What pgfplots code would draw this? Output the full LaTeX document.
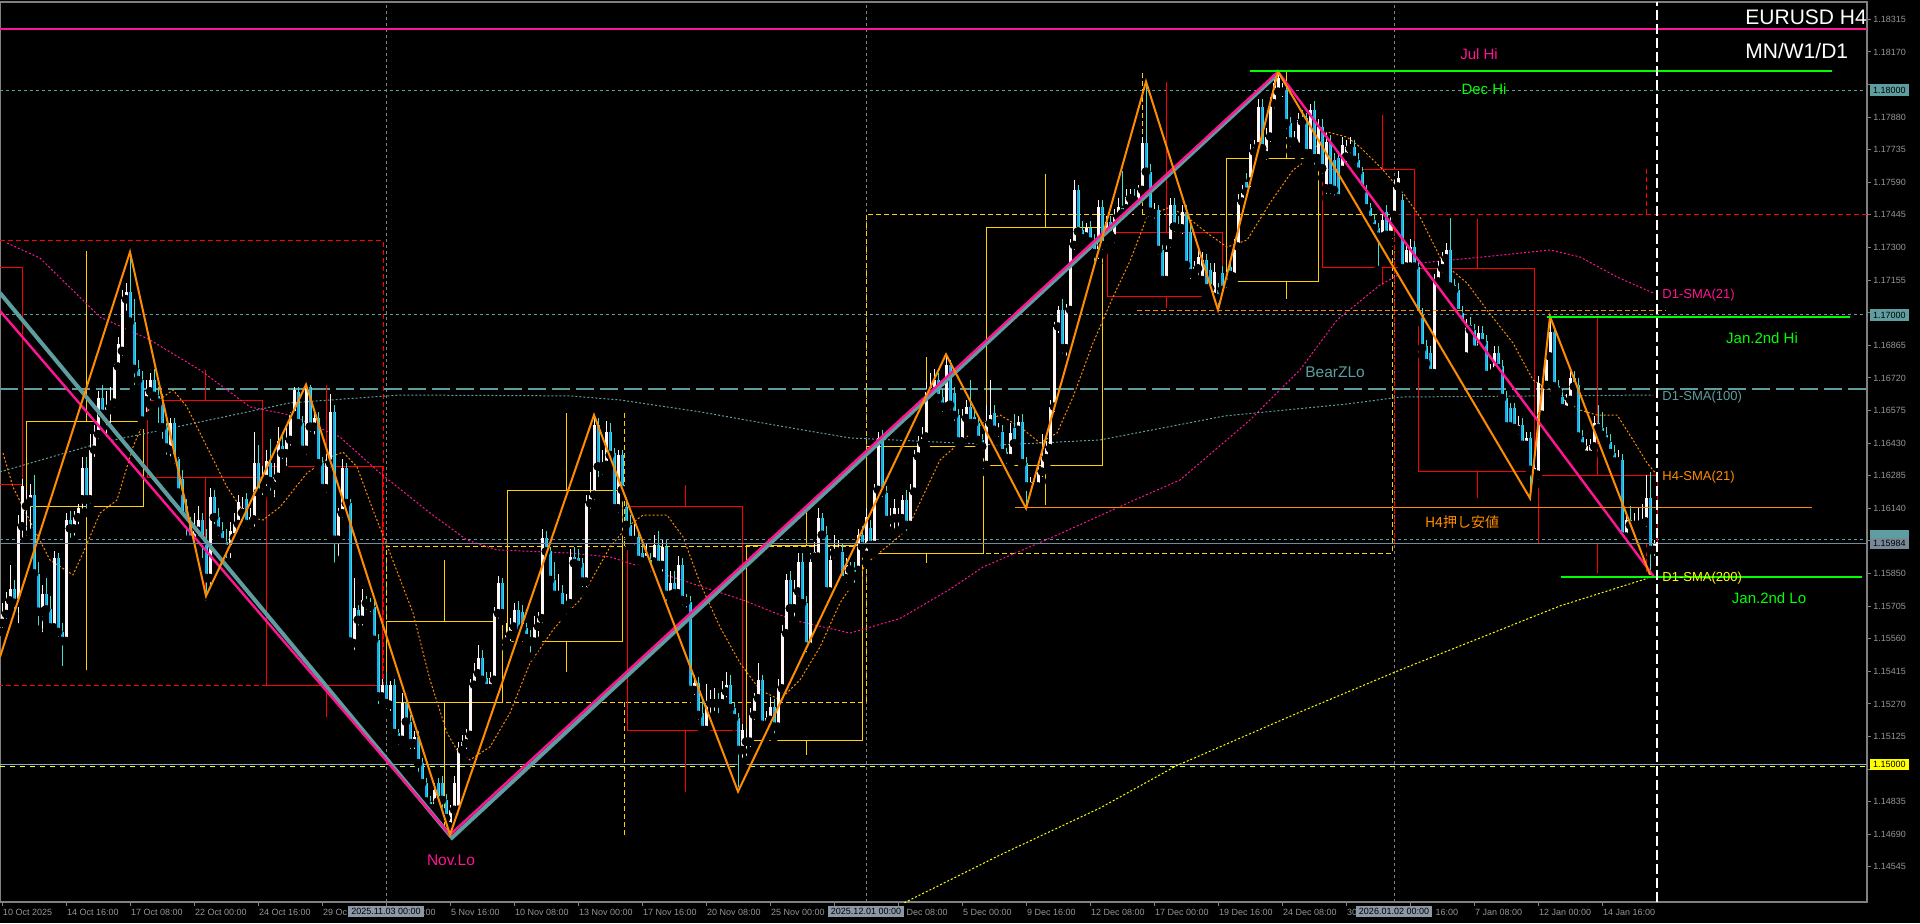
\documentclass[border=0pt]{standalone}
\usepackage{fontspec}
\setmainfont{Liberation Sans}
\newfontfamily\cjk{Noto Sans CJK JP}
\usepackage{pgfplots}
\usepackage{pgfplotstable}
\pgfplotsset{compat=1.18}
\definecolor{bullbody}{RGB}{255,246,246}
\definecolor{bullwick}{RGB}{245,245,245}
\definecolor{bearbody}{RGB}{25,170,250}
\definecolor{bearwick}{RGB}{64,224,208}
\definecolor{dpink}{RGB}{255,20,147}
\definecolor{cadet}{RGB}{95,158,160}
\definecolor{dorange}{RGB}{255,140,0}
\definecolor{lime}{RGB}{0,255,0}
\definecolor{gold}{RGB}{255,210,0}
\definecolor{yel}{RGB}{255,255,0}
\definecolor{tickgray}{RGB}{150,150,150}
\definecolor{framegray}{RGB}{128,128,128}
\definecolor{slate}{RGB}{119,136,153}
\definecolor{boxgray}{RGB}{140,152,165}
% prices are stored as (price - 1.1000) * 10000, e.g. 652.3 = 1.16523
\pgfplotstableread{
i o h l c
0 563 572 559 567
1 567 577 563 573
2 573 589 570 578
3 578 582 567 572
4 572 611 561 606
5 606 627 597 624
6 615 622 600 617
7 617 625 603 620
8 620 629 583 585
9 585 590 560 568
10 568 580 557 576
11 576 583 565 569
12 569 575 557 561
13 561 595 558 592
14 592 594 555 559
15 559 563 542 555
16 555 612 553 609
17 609 613 599 605
18 605 613 600 610
19 610 616 605 614
20 618 637 612 632
21 632 637 612 618
22 618 647 614 640
23 640 651 635 647
24 647 666 643 663
25 663 669 652 656
26 656 666 644 659
27 659 668 650 661
28 661 678 657 677
29 677 690 675 687
30 684 711 680 707
31 707 714 700 710
32 710 728 694 697
33 697 707 667 676
34 676 680 667 671
35 671 675 651 653
36 662 671 655 666
37 666 674 660 671
38 671 676 659 664
39 664 668 650 661
40 662 665 643 650
41 650 652 636 641
42 640 654 633 652
43 652 654 632 636
44 636 637 618 621
45 627 631 605 611
46 615 618 600 608
47 608 610 596 600
48 599 612 595 604
49 604 615 600 609
50 609 612 590 599
51 598 605 575 583
52 583 623 578 619
53 619 622 605 610
54 610 614 600 604
55 604 608 593 599
56 599 605 590 596
57 596 608 590 604
58 601 612 598 607
59 607 620 603 617
60 612 619 604 614
61 618 621 604 607
62 607 614 603 610
63 609 648 604 634
64 634 642 618 621
65 625 633 618 627
66 627 640 622 635
67 634 645 620 626
68 624 634 617 628
69 628 650 625 644
70 641.5 648 634 638.5
71 638.5 650 631 644.4
72 644.4 657 640 655.5
73 655.5 668 652 666.7
74 665.9 668 648 651.8
75 651.8 655 638 640
76 640 669 636 668.1
77 668.1 669 646 650.3
78 650.3 658 645 654
79 654 657 631 634
80 634 637 620 622.9
81 622.9 638 619 634
82 634 665 630 657
83 657 660 588 600
84 600 614 591 611.8
85 611.8 636 608 631.8
86 631.8 634 613 616.3
87 616.3 618 551 554.7
88 554 583 549 569.5
89 568.8 571 560 564.4
90 564.4 578 560 573.3
91 573.3 575 567 571.8
92 571.8 574 566 570.3
93 570.3 573 553 555.5
94 555.5 558 525 530.3
95 530.3 538 525 535.5
96 535.5 541 523 527.3
97 526.6 537 522 535.5
98 535.5 538 510 514
99 514 516 507 511
100 511 532 508 527.3
101 527.3 530 516 519.1
102 519.1 522 505 509.5
103 509.5 515 505 512.5
104 512.5 515 495 500.6
105 500.6 503 488 491.7
106 491.7 494 478 483.6
107 483.6 486 476 480.6
108 480.6 492 477 488.7
109 491.7 494 480 483.6
110 491.7 495 479 484.3
111 484.3 487 468.8 476.2
112 472.5 482 468 479.9
113 479.9 495 476 491.7
114 479.9 510 476 507.3
115 506.5 513 503 510.2
116 509.5 516 505 513.2
117 513.2 538 510 535.5
118 535.5 545 533 540.6
119 540.6 553 537 547.3
120 547.3 551 535 537.7
121 538.4 541 530 534
122 534 541 531 538.4
123 537.7 570 535 567.3
124 567.3 584 563 580.7
125 580.7 583 564 567.3
126 554.7 563 552 557.7
127 557.7 565 553 561.4
128 561.4 572 558 568.8
129 568.8 573 555 558.4
130 568 571 557 560.7
131 560.7 563 553 556.2
132 556.2 560 548 554.7
133 554.7 566 551 561.4
134 561.4 568 555 565.1
135 565.1 605 561 600.7
136 600.7 604 592 594.8
137 594.8 597 579 582.1
138 582.1 590 572 575.5
139 575.5 585 572 576.2
140 576.2 580 566 569.5
141 570.3 576 565 571.8
142 571.8 596 568 592.5
143 592.5 597 586 589.6
144 591.8 596 585 588.8
145 589.6 592 577 581.4
146 581.4 620 577 616.2
147 616.2 630 612 620
148 620 655.5 616 651.1
149 651.1 654 626 632.6
150 632.6 640 627 633.3
151 633.3 653 630 648.1
152 648.1 652 634 637.7
153 638.5 641 610 614
154 614 640 610 637.7
155 637.7 640 619 622.2
156 614.8 619 603 606.6
157 606.6 611 597 599.9
158 599.9 607 596 601.4
159 601.4 604 587 591
160 594 600 587 590.3
161 591 598 586 594
162 591 594 584 588.1
163 590.3 602 587 597.7
164 597.7 604 585 588.8
165 588.8 600 584 597
166 597 600 571 575.5
167 575.5 586 572 580.7
168 580.7 586 573 576.2
169 576.2 593 572 588.8
170 588.8 592 569 573.2
171 573.2 576 568 572.5
172 572.5 575 530 533.2
173 533.2 540 529 536.2
174 536.2 539 518 522.1
175 522.8 529 512 515.4
176 515.4 536 512 527.3
177 527.3 533 520 528
178 527.3 534 522 528.8
179 528.8 532 521 527.3
180 527.3 537 524 532.5
181 532.5 541 528 535.4
182 535.4 540 521 525.1
183 525.1 528 517 520.6
184 520.6 523 488 506.5
185 506.5 518 500 515.4
186 510.2 516 502 511
187 510.2 525 506 522.1
188 522.1 532 518 529.5
189 529.5 545 526 537.7
190 537.7 540 514 517.7
191 517.7 524 512 520.6
192 519.9 530 515 525.8
193 525.8 529 512 516.9
194 516.9 538 513 533.9
195 533.9 562 530 558.4
196 558.4 585 555 582.1
197 582.1 586 566 569.5
198 569.5 582 564 577
199 577 594 573 590.3
200 590.3 594 568 571.8
201 571.8 575 548 552.5
202 552.5 594 550 590.3
203 592.5 599 589 594.7
204 592.5 614 589 609.6
205 609.6 612 598 602.2
206 602.2 606 574 577
207 577 596 574 591
208 594 602 590 594.7
209 594.7 600 591 595
210 594.7 598 579 582.1
211 582.9 592 579 588.8
212 588 590 583 586.6
213 586.6 590 579 584
214 586.6 605 583 602.2
215 602.2 606 594 597
216 593.3 614 590 610.3
217 605.1 609 594 597.7
218 597.7 625 594 622.2
219 622.2 648 619 645.2
220 645.2 649 617 621.4
221 620.7 624 605 608.8
222 608.8 614 604 609.6
223 609.6 618 603 614
224 609.6 614 604 610.3
225 609.6 620 605 617.7
226 617.7 622 602 606.6
227 606.6 625 603 621.4
228 621.4 640 618 637
229 637 646 634 642.9
230 642.9 650 640 645.9
231 645.9 670 642 665.9
232 665.9 674 662 668.1
233 665.9 676 662 671.1
234 671.1 674 659 663
235 663.7 667 655 659.2
236 659.2 682.5 656 677.8
237 677.8 680 656 660
238 665.2 668 651 655.5
239 655.5 658 640 643.7
240 643.7 658 640 654.1
241 654.1 662 650 659.2
242 659.2 671 648 651.8
243 654.8 658 649 651.8
244 651.8 654 640 644.4
245 644.4 647 638 641.5
246 633.3 660 630 651.8
247 651.8 671 648 655.5
248 656.3 660 645 648.9
249 648.1 652 644 648.9
250 648.1 651 635 638.5
251 639.2 641 632 636.3
252 636.3 652 633 647.4
253 649.6 656 640 642.9
254 648.9 655 645 652.6
255 652.6 656 630 634
256 634 637 614 623.7
257 623.7 628 620 625.9
258 625.1 628 620 623.7
259 623.7 633 620 630.3
260 630.3 647 626 637
261 636.3 644 633 640.7
262 640.7 662 637 659.2
263 659.2 697 655 694.8
264 694.8 704 690 702.2
265 702.2 707 681 685.2
266 685.2 705 680 702.2
267 702.2 734 699 731.1
268 731.1 760 727 755.6
269 755.6 758 732 737.1
270 737.8 742 730 734.1
271 734.9 741 731 738.6
272 738.6 742 727 732.6
273 733.4 736 722 727.4
274 727.4 751 723 748.2
275 748.2 751 727 731.1
276 734.1 744 729 741.5
277 741.5 744 732 735.6
278 734.1 747 730 743.7
279 743.7 752 740 748.2
280 747.5 764 743 745.2
281 747.4 756 744 752.6
282 751.9 756 748 752.6
283 752.6 756 748 751.1
284 747.4 758 744 755.6
285 755.6 779 752 776.3
286 776.3 803.8 760 763.7
287 763.7 767 742 745.9
288 745.2 750 741 746.7
289 746.7 749 725 728.9
290 728.9 731 712 715.5
291 715.5 731 712 728.2
292 731.9 752 728 748.9
293 748.9 752 735 739.3
294 740 744 735 738.5
295 738.5 749 734 745.9
296 745.9 749 719 722.2
297 737.1 741 714 718.5
298 718.5 724 714 721.5
299 720.7 729 716 725.9
300 715.5 728 712 724.4
301 724.4 727 708 711.8
302 720 723 708 711.8
303 708.1 723 704 719.3
304 711.1 714 702.2 707.4
305 718.5 722 707 711.1
306 714.1 720 710 717
307 721.5 725 714 717.8
308 717 734 714 730.4
309 730.4 754 727 750.4
310 750.4 758 747 754.1
311 759.3 763 751 754.8
312 759.3 776 755 772.6
313 772.6 778 769 774.9
314 774.9 796 771 792.6
315 792.6 796 770 774.1
316 771.1 783 767 779.3
317 779.3 797 775 794.1
318 794.1 806 790 803
319 799.3 808.2 796 805.2
320 799.3 803 795 800.1
321 800.1 803 781 785.2
322 785.2 788 773 777.1
323 777.1 782 773 777.8
324 774.9 790 771 786.7
325 787.5 791 783 786
326 787.5 790 768 771.9
327 771.9 794 768 791.2
328 791.2 795 765 769.7
329 769.7 787 766 783.7
330 783.7 787 761 765.2
331 756.3 781 752 777.1
332 777.1 780 752 756.3
333 768.9 772 751 755.6
334 769.7 773 748 751.9
335 764.5 779 761 775.6
336 770.4 778 766 774.9
337 774.1 779 770 775.6
338 774.9 778 765 768.9
339 768.9 772 760 763.7
340 763.7 766 752 755.6
341 755.6 758 744 747.4
342 747.4 750 739 742.2
343 742.2 745 735 738.5
344 738.5 741 720 734.8
345 734.8 746 731 742.2
346 745.9 749 732 735.6
347 735.6 744 732 740.8
348 744.5 760 741 757.1
349 757.1 764 754 760.8
350 751.1 754 718 720.7
351 721.5 732 718 728.9
352 721.5 734 718 730.4
353 730.4 733 718 721.5
354 721.5 724 697 700
355 700 703 682 685.2
356 686 689 675 678.5
357 683 686 671 674.1
358 674.1 718 671 714.9
359 714.9 724 711 720.8
360 720.8 728 717 725.2
361 725.2 732 722 728.9
362 728.9 743 709 712.6
363 713.4 716 708 711.1
364 711.1 714 697 700.8
365 700.8 704 692 695.6
366 681.5 698 678 695.6
367 695.6 699 690 693.4
368 693.4 696 681 684.5
369 684.5 695 681 691.9
370 691.9 695 684 687.4
371 688.2 691 670 673.3
372 673.3 678 670 674.8
373 674.8 686 672 683
374 683 686 673 676.3
375 677.1 680 660 663
376 663 666 647 650.4
377 658.5 661 647 650.4
378 658.5 661 646 649.6
379 648.9 655 645 651.1
380 651.1 654 639 642.2
381 642.2 648 639 645.2
382 645.2 648 618.5 631.1
383 629.6 635 626 631.8
384 628.9 673 625 669.6
385 655.6 672 652 668.9
386 668.9 684 665 681.5
387 681.5 699.3 678 692.6
388 692.6 695 665 668.2
389 668.2 671 663 665.9
390 663.7 667 655 658.5
391 657.8 665 654 662.2
392 662.2 675 659 671.9
393 671.9 675 665 668.2
394 668.9 672 643 645.9
395 645.9 649 638 641.5
396 637.8 645 634 641.5
397 637.8 645 634 642.2
398 641.5 655 638 651.9
399 651.9 660 648 649.6
400 649.6 657 644 646.7
401 646.7 650 640 643.7
402 643.7 647 635 638.5
403 638.5 642 631 634.8
404 634.8 640 631 636.3
405 635.5 638 598 601.4
406 601.4 612 598 608.9
407 608.9 615 603 606.6
408 606.6 612 603 607.4
409 606.6 614 603 608.1
410 607.4 616 604 608.9
411 608.1 629 604 618.5
412 618.5 630 584.4 595.5
413 595.5 600 591 598.4
}\candles
\newcommand\tf{\fontsize{4.5}{5.4}\selectfont}
\begin{document}
\begin{tikzpicture}
\fill[black] (0,0) rectangle (960pt,461.5pt);
\path[use as bounding box] (0,0) rectangle (960pt,461.5pt);
\begin{axis}[
  at={(0pt,10.5pt)}, anchor=south west,
  scale only axis, width=933.5pt, height=450pt,
  xmin=-0.5, xmax=466.25, ymin=438.9, ymax=839.2,
  clip mode=individual,
  axis line style={draw=framegray, line width=0.6pt},
  tick style={draw=framegray, line width=0.5pt},
  tick align=outside, major tick length=2pt,
  xtick pos=bottom, ytick pos=right, yticklabel pos=right,
  xtick={0,16,...,400},
  xticklabels={10 Oct 2025,14 Oct 16:00,17 Oct 08:00,22 Oct 00:00,24 Oct 16:00,29 Oc,\phantom{3 Nov 00}:00,5 Nov 16:00,10 Nov 08:00,13 Nov 00:00,17 Nov 16:00,20 Nov 08:00,25 Nov 00:00,,\phantom{2 }Dec 08:00,5 Dec 00:00,9 Dec 16:00,12 Dec 08:00,17 Dec 00:00,19 Dec 16:00,24 Dec 08:00,30,\phantom{2 Jan }16:00,7 Jan 08:00,12 Jan 00:00,14 Jan 16:00},
  ytick={831.5,817,802.5,788,773.5,759,744.5,730,715.5,701,686.5,672,657.5,643,628.5,614,599.5,585,570.5,556,541.5,527,512.5,498,483.5,469,454.5},
  yticklabels={1.18315,1.18170,,1.17880,1.17735,1.17590,1.17445,1.17300,1.17155,,1.16865,1.16720,1.16575,1.16430,1.16285,1.16140,,1.15850,1.15705,1.15560,1.15415,1.15270,1.15125,,1.14835,1.14690,1.14545},
  xticklabel style={font=\tf, text=tickgray, anchor=north west, inner sep=0pt, xshift=0.3pt, yshift=-1.5pt},
  yticklabel style={font=\tf, text=tickgray, anchor=west, inner sep=0pt, xshift=1pt},
]
% month separators
\addplot[framegray, line width=0.5pt, dash pattern=on 1.5pt off 1.5pt] coordinates {(96,438.9) (96,839.2)};
\addplot[framegray, line width=0.5pt, dash pattern=on 1.5pt off 1.5pt] coordinates {(216,438.9) (216,839.2)};
\addplot[framegray, line width=0.5pt, dash pattern=on 1.5pt off 1.5pt] coordinates {(348,438.9) (348,839.2)};
% round-number levels
\addplot[cadet, line width=0.5pt, dash pattern=on 1.5pt off 1.5pt] coordinates {(-0.5,800) (466.25,800)};
\addplot[cadet, line width=0.5pt, dash pattern=on 1.5pt off 1.5pt] coordinates {(-0.5,700) (466.25,700)};
\addplot[cadet, line width=0.5pt, dash pattern=on 1.5pt off 1.5pt] coordinates {(-0.5,600) (466.25,600)};
\addplot[yel, line width=0.5pt, dash pattern=on 2.5pt off 2.5pt] coordinates {(-0.5,499.2) (466.25,499.2)};
\addplot[cadet!80!white, line width=0.6pt] coordinates {(-0.5,500) (466.25,500)};
% BearZLo
\addplot[cadet, line width=0.6pt, dash pattern=on 9pt off 3pt] coordinates {(-0.5,667.1) (466.25,667.1)};
% monthly candles
\addplot[red, line width=0.5pt, dash pattern=on 2.5pt off 1.5pt] coordinates {(-0.5,732.9) (95.25,732.9) (95.25,535) (-0.5,535)};
\addplot[gold, line width=0.5pt, dash pattern=on 2.5pt off 1.5pt] coordinates {(96,527.8) (216,527.8) (216,597.2) (96,597.2) (96,527.8)};
\addplot[gold, line width=0.5pt, dash pattern=on 2.5pt off 1.5pt] coordinates {(155.5,597.2) (155.5,656.4)};
\addplot[gold, line width=0.5pt, dash pattern=on 2.5pt off 1.5pt] coordinates {(155.5,527.8) (155.5,468.8)};
\addplot[gold, line width=0.5pt, dash pattern=on 2.5pt off 1.5pt] coordinates {(216,594.1) (347.5,594.1) (347.5,744.9) (216,744.9) (216,594.1)};
\addplot[gold, line width=0.5pt, dash pattern=on 2.5pt off 1.5pt] coordinates {(285,744.9) (285,808.1)};
\addplot[red, line width=0.5pt, dash pattern=on 2.5pt off 1.5pt] coordinates {(466.25,744.9) (348,744.9) (348,598.4) (466.25,598.4)};
\addplot[red, line width=0.5pt, dash pattern=on 2.5pt off 1.5pt] coordinates {(411,744.9) (411,764.9)};
\addplot[red, line width=0.5pt, dash pattern=on 2.5pt off 1.5pt] coordinates {(411,598.4) (411,583.6)};
% weekly candles
\addplot[red, line width=0.5pt] coordinates {(-0.5,624.5) (5,624.5) (5,721) (-0.5,721)};
\addplot[gold, line width=0.5pt] coordinates {(6,614.6) (35.25,614.6) (35.25,652.4) (6,652.4) (6,614.6)};
\addplot[gold, line width=0.5pt] coordinates {(21,652.4) (21,728.5)};
\addplot[gold, line width=0.5pt] coordinates {(21,614.6) (21,542.2)};
\addplot[red, line width=0.5pt] coordinates {(36.25,627.5) (65,627.5) (65,661.8) (36.25,661.8) (36.25,627.5)};
\addplot[red, line width=0.5pt] coordinates {(50.75,661.8) (50.75,675.5)};
\addplot[red, line width=0.5pt] coordinates {(50.75,627.5) (50.75,573)};
\addplot[red, line width=0.5pt] coordinates {(66,535.4) (95,535.4) (95,632.8) (66,632.8) (66,535.4)};
\addplot[red, line width=0.5pt] coordinates {(81,632.8) (81,668.9)};
\addplot[red, line width=0.5pt] coordinates {(81,535.4) (81,521.3)};
\addplot[gold, line width=0.5pt] coordinates {(96,527.5) (125,527.5) (125,563.5) (96,563.5) (96,527.5)};
\addplot[gold, line width=0.5pt] coordinates {(110.5,563.5) (110.5,591.1)};
\addplot[gold, line width=0.5pt] coordinates {(110.5,527.5) (110.5,468)};
\addplot[gold, line width=0.5pt] coordinates {(126.25,554.7) (155,554.7) (155,621.8) (126.25,621.8) (126.25,554.7)};
\addplot[gold, line width=0.5pt] coordinates {(141,621.8) (141,656.4)};
\addplot[gold, line width=0.5pt] coordinates {(141,554.7) (141,541.2)};
\addplot[red, line width=0.5pt] coordinates {(156.25,515.4) (185,515.4) (185,614.6) (156.25,614.6) (156.25,515.4)};
\addplot[red, line width=0.5pt] coordinates {(170.75,614.6) (170.75,624.4)};
\addplot[red, line width=0.5pt] coordinates {(170.75,515.4) (170.75,488)};
\addplot[gold, line width=0.5pt] coordinates {(186,510.7) (215,510.7) (215,597.4) (186,597.4) (186,510.7)};
\addplot[gold, line width=0.5pt] coordinates {(201,597.4) (201,613.3)};
\addplot[gold, line width=0.5pt] coordinates {(201,510.7) (201,504.4)};
\addplot[gold, line width=0.5pt] coordinates {(216,593.7) (245.25,593.7) (245.25,641.3) (216,641.3) (216,593.7)};
\addplot[gold, line width=0.5pt] coordinates {(231,641.3) (231,681.4)};
\addplot[gold, line width=0.5pt] coordinates {(231,593.7) (231,589.7)};
\addplot[gold, line width=0.5pt] coordinates {(246,632.9) (275,632.9) (275,738.7) (246,738.7) (246,632.9)};
\addplot[gold, line width=0.5pt] coordinates {(260.75,738.7) (260.75,762.6)};
\addplot[gold, line width=0.5pt] coordinates {(260.75,632.9) (260.75,615.5)};
\addplot[red, line width=0.5pt] coordinates {(276.25,708) (305,708) (305,736.8) (276.25,736.8) (276.25,708)};
\addplot[red, line width=0.5pt] coordinates {(291,736.8) (291,803.6)};
\addplot[red, line width=0.5pt] coordinates {(291,708) (291,703.1)};
\addplot[gold, line width=0.5pt] coordinates {(306,714.7) (329,714.7) (329,769.8) (306,769.8) (306,714.7)};
\addplot[gold, line width=0.5pt] coordinates {(321,769.8) (321,808.1)};
\addplot[gold, line width=0.5pt] coordinates {(321,714.7) (321,707.1)};
\addplot[red, line width=0.5pt] coordinates {(330,720.9) (353,720.9) (353,764.9) (330,764.9) (330,720.9)};
\addplot[red, line width=0.5pt] coordinates {(345,764.9) (345,788.9)};
\addplot[red, line width=0.5pt] coordinates {(345,720.9) (345,713.4)};
\addplot[red, line width=0.5pt] coordinates {(354,630.2) (383,630.2) (383,720.5) (354,720.5) (354,630.2)};
\addplot[red, line width=0.5pt] coordinates {(368.75,720.5) (368.75,742.7)};
\addplot[red, line width=0.5pt] coordinates {(368.75,630.2) (368.75,618.6)};
\addplot[red, line width=0.5pt] coordinates {(384,598.2) (413.75,598.2) (413.75,628.4) (384,628.4) (384,598.2)};
\addplot[red, line width=0.5pt] coordinates {(398.75,628.4) (398.75,698.7)};
\addplot[red, line width=0.5pt] coordinates {(398.75,598.2) (398.75,585.2)};
% moving averages
\addplot[dpink, line width=0.5pt, dash pattern=on 1pt off 1pt] coordinates {(1.25,732.0) (9.5,725.3) (24.5,699.1) (37,688.9) (49.5,675.5) (62,659.1) (72,655.5) (84.5,645.7) (94.5,629.7) (107,611.9) (116.25,599.9) (123.75,595.5) (142,594.1) (152,592.4) (164.5,585.2) (185.25,573.2) (197.75,564.3) (212,558.5) (224.5,565) (237,578) (245.25,587.9) (262.75,601.3) (282,616.8) (294.5,626.6) (312,653.3) (324.5,675.6) (333.75,697.8) (344.5,713.3) (354.5,723.1) (370.25,725.8) (387,728.9) (394.5,725.8) (403.75,716.9) (412.75,709.8)};
\addplot[cadet, line width=0.5pt, dash pattern=on 1pt off 1pt] coordinates {(-0.5,630.2) (24.5,643.1) (49.5,652.4) (72,660.9) (99.5,664.4) (142,664.0) (154.5,662.2) (174.5,656.9) (194.5,650.6) (212,645.3) (249.5,642.2) (274.5,644.4) (305.75,655.1) (336.25,660.4) (349.5,663.5) (412.75,664.4)};
\addplot[yel, line width=0.5pt, dash pattern=on 1pt off 1pt] coordinates {(222,435.4) (249.5,459.8) (274.5,480.7) (293.5,499.4) (324.5,523.4) (349.5,542.1) (374.5,559.9) (389.5,570.6) (412.5,583.5)};
\addplot[dorange, line width=0.5pt, dash pattern=on 1pt off 1pt] coordinates {(0.25,638.6) (2.75,623.5) (7.75,605.7) (12,591.0) (17.75,584.4) (20.25,594.1) (24.5,611.9) (28.75,617.7) (32.75,641.3) (37,659.1) (42.75,666.7) (46.25,659.1) (51.25,641.3) (56.25,623.5) (61.25,610.1) (65.25,608.8) (69.5,614.6) (76.25,629.7) (82,636.8) (85.25,639.0) (88.75,632.4) (92.75,613.2) (97,594.1) (102.75,567.5) (107,537.7) (111.25,514.1) (113.75,506.5) (117,502.1) (122,507.9) (127,523.0) (132,545.2) (137.75,559.9) (142,568.8) (144.5,573.2) (152,596.8) (156.25,605.7) (160.25,611.0) (166.25,611.0) (170.25,601.3) (174.5,580.8) (179.5,561.2) (184.5,545.2) (189.5,533.2) (194.5,528.8) (199.5,537.7) (204.5,552.3) (209.5,571.9) (216.25,589.7) (226.25,604.4) (234.5,635.5) (240.25,644.4) (245.25,652.0) (249.5,655.5) (254.5,650.2) (259.5,643.1) (263.75,647.5) (267.75,663.5) (272.75,687.5) (277.75,708.0) (282,724) (286.25,743.6) (292,748.0) (296.25,743.6) (301.25,736.5) (306.25,730.2) (311.25,733.3) (317,749.8) (322.75,764.5) (326.25,768.9) (331.25,781.4) (336.25,779.1) (339.5,774.7) (345.25,764.5) (350.25,754.2) (354.5,743.6) (360.25,723.1) (366.25,714.2) (371.25,702.2) (377.75,687.5) (382.75,671.1) (387.75,665.3) (394.5,657.7) (398.75,655.5) (403.75,655.5) (407.75,644.4) (411.25,634.2) (413.75,628.8)};
% candles: wicks
\addplot[only marks, mark=none, restrict expr to domain={\thisrow{c}-\thisrow{o}}{0:1000},
  error bars/.cd, y dir=plus, y explicit, error mark=none, error bar style={line width=0.5pt, draw=bullwick}]
  table[x=i, y=l, y error plus expr=\thisrow{h}-\thisrow{l}] {\candles};
\addplot[only marks, mark=none, restrict expr to domain={\thisrow{o}-\thisrow{c}}{0.001:1000},
  error bars/.cd, y dir=plus, y explicit, error mark=none, error bar style={line width=0.5pt, draw=bearwick}]
  table[x=i, y=l, y error plus expr=\thisrow{h}-\thisrow{l}] {\candles};
% candles: bodies
\addplot[only marks, mark=none, restrict expr to domain={\thisrow{c}-\thisrow{o}}{0:1000},
  error bars/.cd, y dir=plus, y explicit, error mark=none, error bar style={line width=1.5pt, draw=bullbody}]
  table[x=i, y=o, y error plus expr={max(\thisrow{c}-\thisrow{o},0.5)}] {\candles};
\addplot[only marks, mark=none, restrict expr to domain={\thisrow{o}-\thisrow{c}}{0.001:1000},
  error bars/.cd, y dir=plus, y explicit, error mark=none, error bar style={line width=1.5pt, draw=bearwick}]
  table[x=i, y=c, y error plus expr={max(\thisrow{o}-\thisrow{c},0.5)}] {\candles};
\addplot[only marks, mark=none, restrict expr to domain={\thisrow{o}-\thisrow{c}}{0.001:1000},
  error bars/.cd, y dir=plus, y explicit, error mark=none, error bar style={line width=0.9pt, draw=bearbody}]
  table[x=i, y=c, y error plus expr={max(\thisrow{o}-\thisrow{c},0.5)}] {\candles};
% swing lines
\addplot[cadet, line width=2pt] coordinates {(-0.5,709.8) (112.5,467.5) (318.5,806.5)};
\addplot[dpink, line width=1.2pt] coordinates {(-0.5,701.8) (112,468.8) (319,808.2) (413,583.5)};
\addplot[dorange, line width=1pt] coordinates {(-0.5,547.9) (32,728) (51,575) (76,669) (112,468.8) (148,655.5) (184,488) (236,682.5) (256,614) (286,803.8) (304,702.2) (319,808.2) (382,618.5) (387,699.3) (412,584.4)};
% levels
\addplot[dpink, line width=1pt] coordinates {(-0.5,827.3) (466.25,827.3)};
\addplot[lime, line width=1pt] coordinates {(312,808.6) (457.5,808.6)};
\addplot[lime, line width=1pt] coordinates {(386.25,699.3) (462,699.3)};
\addplot[lime, line width=1pt] coordinates {(389.75,583.6) (465,583.6)};
\addplot[dorange, line width=0.6pt] coordinates {(253.25,614.2) (452.5,614.2)};
\addplot[dorange, line width=0.5pt, dash pattern=on 2.5pt off 1.5pt] coordinates {(283.75,702.2) (416,702.2)};
\addplot[slate, line width=0.6pt] coordinates {(-0.5,598.4) (466.25,598.4)};
\addplot[white, line width=0.6pt, dash pattern=on 5pt off 2pt] coordinates {(413.75,438.9) (413.75,839.2)};
% texts
\node[font=\fontsize{10.5}{12}\selectfont, text=white, anchor=west, inner sep=0pt] at (axis cs:435.75,832.5) {EURUSD H4};
\node[font=\fontsize{10.5}{12}\selectfont, text=white, anchor=west, inner sep=0pt] at (axis cs:435.75,817.4) {MN/W1/D1};
\node[font=\fontsize{7.5}{9}\selectfont, text=dpink, inner sep=0pt] at (axis cs:369.25,816.1) {Jul Hi};
\node[font=\fontsize{7.5}{9}\selectfont, text=lime, inner sep=0pt] at (axis cs:370.5,800.5) {Dec Hi};
\node[font=\fontsize{7.75}{9}\selectfont, text=dpink, inner sep=0pt] at (axis cs:112.25,457.6) {Nov.Lo};
\node[font=\fontsize{7.75}{9}\selectfont, text=cadet, inner sep=0pt] at (axis cs:333.25,674.6) {BearZLo};
\node[font=\cjk\fontsize{7}{9}\selectfont, text=dorange, inner sep=0pt] at (axis cs:365,607.9) {H4押し安値};
\node[font=\fontsize{7.5}{9}\selectfont, text=lime, inner sep=0pt] at (axis cs:440,689.8) {Jan.2nd Hi};
\node[font=\fontsize{7.5}{9}\selectfont, text=lime, inner sep=0pt] at (axis cs:441.75,574.1) {Jan.2nd Lo};
\node[font=\fontsize{6.5}{8}\selectfont, text=dpink, anchor=west, inner sep=0pt] at (axis cs:415,708.9) {D1-SMA(21)};
\node[font=\fontsize{6.5}{8}\selectfont, text=cadet, anchor=west, inner sep=0pt] at (axis cs:415,663.5) {D1-SMA(100)};
\node[font=\fontsize{6.5}{8}\selectfont, text=dorange, anchor=west, inner sep=0pt] at (axis cs:415,627.9) {H4-SMA(21)};
\node[font=\fontsize{6.5}{8}\selectfont, text=yel, anchor=west, inner sep=0pt] at (axis cs:415,583.0) {D1-SMA(200)};
\coordinate (p18) at (axis cs:466.25,800);
\coordinate (p17) at (axis cs:466.25,700);
\coordinate (p16) at (axis cs:466.25,600);
\coordinate (pcur) at (axis cs:466.25,598.4);
\coordinate (p15) at (axis cs:466.25,500);
\coordinate (m1) at (axis cs:96,438.9);
\coordinate (m2) at (axis cs:216,438.9);
\coordinate (m3) at (axis cs:348,438.9);
\end{axis}
\node[fill=cadet, text=black, font=\tf, anchor=west, inner xsep=1.6pt, inner ysep=1.3pt, xshift=1.2pt] at (p18) {1.18000};
\node[fill=cadet, text=black, font=\tf, anchor=west, inner xsep=1.6pt, inner ysep=1.3pt, xshift=1.2pt] at (p17) {1.17000};
\node[fill=cadet, text=black, font=\tf, anchor=west, inner xsep=1.6pt, inner ysep=1.3pt, xshift=1.2pt, yshift=2pt] at (p16) {\phantom{1.16000}};
\node[fill=slate, text=black, font=\tf, anchor=west, inner xsep=1.6pt, inner ysep=1.3pt, xshift=1.2pt] at (pcur) {1.15984};
\node[fill=yel, text=black, font=\tf, anchor=west, inner xsep=1.6pt, inner ysep=1.3pt, xshift=1.2pt] at (p15) {1.15000};
\node[fill=boxgray, text=black, font=\tf, anchor=north, inner xsep=1.5pt, inner ysep=1.2pt, yshift=-1.8pt] at (m1) {2025.11.03 00:00};
\node[fill=boxgray, text=black, font=\tf, anchor=north, inner xsep=1.5pt, inner ysep=1.2pt, yshift=-1.8pt] at (m2) {2025.12.01 00:00};
\node[fill=boxgray, text=black, font=\tf, anchor=north, inner xsep=1.5pt, inner ysep=1.2pt, yshift=-1.8pt] at (m3) {2026.01.02 00:00};
\end{tikzpicture}
\end{document}
